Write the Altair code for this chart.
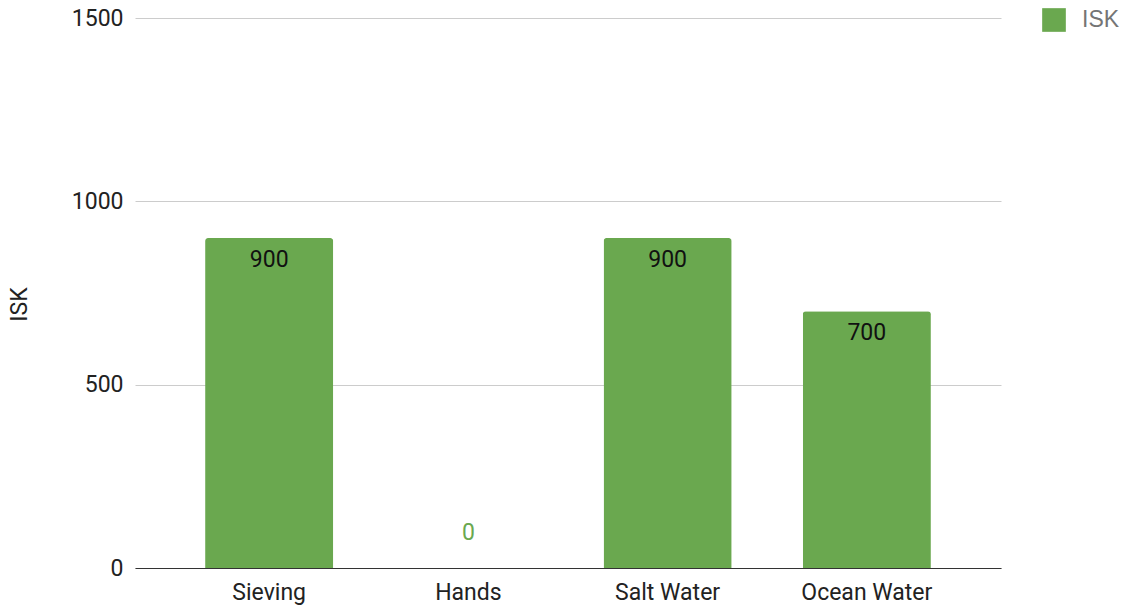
import altair as alt
import pandas as pd

# Cost in ISK for each collection method
methods = ["Sieving", "Hands", "Salt Water", "Ocean Water"]
isk = [900, 0, 900, 700]
series = ["ISK", "ISK", "ISK", "ISK"]

df = pd.DataFrame({"method": methods, "isk": isk, "series": series})

GREEN = "#6aa84f"
FONT = "Roboto"
FS = 23

x_enc = alt.X(
    "method:N",
    sort=methods,
    title=None,
    scale=alt.Scale(paddingInner=0.357, paddingOuter=0.352),
    axis=alt.Axis(
        labelAngle=0,
        labelFontSize=FS,
        labelFont=FONT,
        labelColor="#222222",
        labelPadding=13,
        ticks=False,
        domainColor="#333333",
        domainWidth=1.2,
        grid=False,
    ),
)

y_enc = alt.Y(
    "isk:Q",
    title="ISK",
    scale=alt.Scale(domain=[0, 1500], nice=False),
    axis=alt.Axis(
        values=[0, 500, 1000, 1500],
        format="d",
        labelFontSize=FS,
        labelFont=FONT,
        labelColor="#222222",
        labelPadding=12,
        ticks=False,
        domain=False,
        gridColor="#cccccc",
        gridWidth=1,
        titleFontSize=FS,
        titleFont=FONT,
        titleFontWeight="normal",
        titleColor="#222222",
        titlePadding=40,
        titleY=286,
    ),
)

bars = alt.Chart(df).mark_bar(
    cornerRadiusTopLeft=3, cornerRadiusTopRight=3
).encode(
    x=x_enc,
    y=y_enc,
    color=alt.Color(
        "series:N",
        scale=alt.Scale(domain=["ISK"], range=[GREEN]),
        legend=alt.Legend(
            title=None,
            orient="none",
            legendX=907,
            legendY=-10,
            symbolType="square",
            symbolSize=560,
            symbolStrokeWidth=0,
            labelFontSize=FS,
            labelFont="Liberation Sans",
            labelColor="#757575",
            labelOffset=16,
        ),
    ),
)

inside = alt.Chart(df).transform_filter("datum.isk > 0").mark_text(
    font=FONT, fontSize=FS, color="#111111", baseline="middle", dy=22
).encode(
    x=alt.X("method:N", sort=methods),
    y=alt.Y("isk:Q"),
    text=alt.Text("isk:Q"),
)

outside = alt.Chart(df).transform_filter("datum.isk <= 0").mark_text(
    font=FONT, fontSize=FS, color=GREEN, baseline="middle", dy=-35
).encode(
    x=alt.X("method:N", sort=methods),
    y=alt.Y("isk:Q"),
    text=alt.Text("isk:Q"),
)

chart = (
    alt.layer(bars, inside, outside)
    .properties(
        width=866,
        height=550,
        autosize=alt.AutoSizeParams(type="none"),
        padding={"left": 135, "top": 18, "right": 122, "bottom": 38},
        background="white",
    )
    .configure_view(stroke=None)
)

chart.save("out.html", embed_options={"renderer": "svg", "actions": False})
